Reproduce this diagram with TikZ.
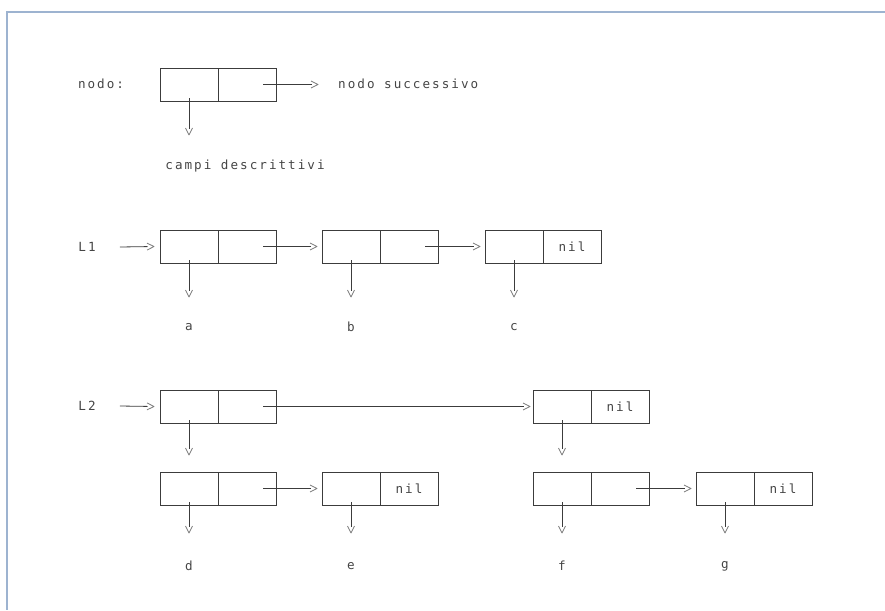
\documentclass[tikz,border=0pt]{standalone}
\usepackage{fontspec}
\usetikzlibrary{arrows.meta}
\newfontfamily\plotfont[LetterSpace=16]{DejaVu Sans Mono}
\definecolor{ink}{HTML}{3C3C3C}
\definecolor{txt}{HTML}{454545}
\definecolor{tipgray}{HTML}{7A7A7A}
\definecolor{frameblue}{HTML}{9DB3D0}

% plotter-style open chevron: the shaft stops where the chevron opens
\pgfdeclarearrow{
  name = chev,
  setup code = {
    \pgfarrowssettipend{0pt}
    \pgfarrowssetlineend{-6.5pt}
    \pgfarrowssetbackend{-7pt}
  },
  drawing code = {
    \pgfsetstrokecolor{tipgray}
    \pgfsetroundjoin
    \pgfpathmoveto{\pgfpoint{-7pt}{3.5pt}}
    \pgfpathlineto{\pgfpointorigin}
    \pgfpathlineto{\pgfpoint{-7pt}{-3.5pt}}
    \pgfusepathqstroke
  }
}

\tikzset{
  cell/.style={draw=ink, line width=0.8pt, minimum width=58pt, minimum height=33pt,
    inner sep=0pt, outer sep=0pt, anchor=north west,
    font=\plotfont\fontsize{12.6}{12.6}\selectfont, text=txt},
  lab/.style={font=\plotfont\fontsize{12.6}{12.6}\selectfont, text=txt, inner sep=0pt},
  ptr/.style={draw=ink, line width=0.8pt, -chev},
}

\begin{document}
\begin{tikzpicture}[x=1pt, y=-1pt]
\useasboundingbox (0,0) rectangle (885,610);

% frame
\draw[frameblue, line width=1.6pt] (885,12) -- (7,12) -- (7,610);

% ---- legend: structure of a node ----
\node[lab] (nodolab) at (101,84) {nodo:};
\node[cell] (n0a) at (160,68) {};
\node[cell] (n0b) at (n0a.north east) {};
\coordinate (n0next) at (318,84.5);
\coordinate (n0tip) at (189,135);
\node[lab, anchor=west] (succ) at (338,84) {nodo successivo};
\node[lab] (campi) at (245,166) {campi descrittivi};
\draw[ptr] ([xshift=-13pt]n0b.east) -- (n0next);
\draw[ptr] ([yshift=3pt]n0a.south) -- (n0tip);

% ---- list L1 ----
\node[lab] (L1) at (87,247) {L1};
\node[cell] (aa) at (160,230) {};
\node[cell] (ab) at (aa.north east) {};
\node[cell] (ba) at (322,230) {};
\node[cell] (bb) at (ba.north east) {};
\node[cell] (ca) at (485,230) {};
\node[cell] (cb) at (ca.north east) {nil};
\coordinate (atip) at (189,297);
\coordinate (btip) at (351,297);
\coordinate (ctip) at (514,297);
\node[lab] (la) at (189,327) {a};
\node[lab] (lb) at (351,327) {b};
\node[lab] (lc) at (514,327) {c};
\draw[ptr] ([xshift=24pt]L1.east) -- ([xshift=-6pt]aa.west);
\draw[ptr] ([xshift=-13pt]ab.east) -- ([xshift=-5pt]ba.west);
\draw[ptr] ([xshift=-13pt]bb.east) -- ([xshift=-5pt]ca.west);
\draw[ptr] ([yshift=3pt]aa.south) -- (atip);
\draw[ptr] ([yshift=3pt]ba.south) -- (btip);
\draw[ptr] ([yshift=3pt]ca.south) -- (ctip);

% ---- list L2 (list of lists) ----
\node[lab] (L2) at (87,406) {L2};
\node[cell] (ha) at (160,390) {};
\node[cell] (hb) at (ha.north east) {};
\node[cell] (ka) at (533,390) {};
\node[cell] (kb) at (ka.north east) {nil};
\draw[ptr] ([xshift=24pt]L2.east) -- ([xshift=-6pt]ha.west);
\draw[ptr] ([xshift=-13pt]hb.east) -- ([xshift=-3pt]ka.west);

\node[cell] (da) at (160,472) {};
\node[cell] (db) at (da.north east) {};
\node[cell] (ea) at (322,472) {};
\node[cell] (eb) at (ea.north east) {nil};
\node[cell] (fa) at (533,472) {};
\node[cell] (fb) at (fa.north east) {};
\node[cell] (ga) at (696,472) {};
\node[cell] (gb) at (ga.north east) {nil};
\draw[ptr, shorten >=17pt] ([yshift=3pt]ha.south) -- (da.north);
\draw[ptr, shorten >=17pt] ([yshift=3pt]ka.south) -- (fa.north);
\draw[ptr] ([xshift=-13pt]db.east) -- ([xshift=-5pt]ea.west);
\draw[ptr] ([xshift=-13pt]fb.east) -- ([xshift=-5pt]ga.west);

\coordinate (dtip) at (189,533);
\coordinate (etip) at (351,533);
\coordinate (ftip) at (562,533);
\coordinate (gtip) at (725,533);
\node[lab] (ld) at (189,566) {d};
\node[lab] (le) at (351,566) {e};
\node[lab] (lf) at (562,566) {f};
\node[lab] (lg) at (725,566) {g};
\draw[ptr] ([yshift=3pt]da.south) -- (dtip);
\draw[ptr] ([yshift=3pt]ea.south) -- (etip);
\draw[ptr] ([yshift=3pt]fa.south) -- (ftip);
\draw[ptr] ([yshift=3pt]ga.south) -- (gtip);
\end{tikzpicture}
\end{document}
